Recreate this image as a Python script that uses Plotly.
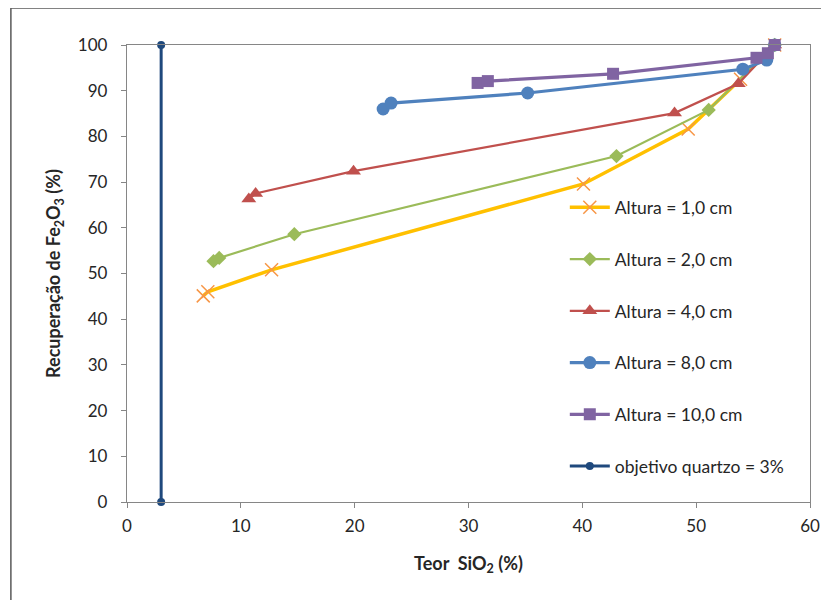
import plotly.graph_objects as go

# Data
x_h1 = [6.7, 7.1, 12.7, 40.1, 49.3, 53.9, 56.9]
y_h1 = [45.1, 46.0, 50.8, 69.6, 81.6, 92.5, 100.0]

x_h2 = [7.6, 8.1, 14.7, 43.0, 51.1, 56.9]
y_h2 = [52.7, 53.4, 58.6, 75.7, 85.8, 100.0]

x_h4 = [10.7, 11.3, 19.9, 48.1, 53.7, 56.9]
y_h4 = [66.3, 67.5, 72.4, 85.1, 91.5, 100.0]

x_h8 = [22.5, 23.2, 35.2, 54.1, 56.2, 56.9]
y_h8 = [86.0, 87.3, 89.5, 94.7, 96.7, 100.0]

x_h10 = [30.8, 31.7, 42.7, 55.3, 56.3, 56.9]
y_h10 = [91.7, 92.1, 93.7, 97.2, 98.2, 100.0]

x_obj = [3, 3]
y_obj = [0, 100]

names = ["Altura = 1,0 cm", "Altura = 2,0 cm", "Altura = 4,0 cm",
         "Altura = 8,0 cm", "Altura = 10,0 cm", "objetivo quartzo = 3%"]

x_ticks = [0, 10, 20, 30, 40, 50, 60]
y_ticks = [0, 10, 20, 30, 40, 50, 60, 70, 80, 90, 100]

FONT = "Lato"
TXT = "#262626"
AX = "#868686"

fig = go.Figure()

fig.add_trace(go.Scatter(
    x=x_h1, y=y_h1, name=names[0], mode="lines+markers", legendgroup="g1",
    line=dict(color="#FFC000", width=3.5),
    marker=dict(symbol="x-thin", size=13, line=dict(color="#F79646", width=1.5)),
    cliponaxis=False))
fig.add_trace(go.Scatter(
    x=x_h2, y=y_h2, name=names[1], mode="lines+markers", legendgroup="g2",
    line=dict(color="#9BBB59", width=2.2),
    marker=dict(symbol="diamond", size=11, color="#9BBB59"),
    cliponaxis=False))
fig.add_trace(go.Scatter(
    x=x_h4, y=y_h4, name=names[2], mode="lines+markers", legendgroup="g3",
    line=dict(color="#C0504D", width=2.2),
    marker=dict(symbol="triangle-up", size=13, color="#C0504D"),
    cliponaxis=False))
fig.add_trace(go.Scatter(
    x=x_h8, y=y_h8, name=names[3], mode="lines+markers", legendgroup="g4",
    line=dict(color="#4F81BD", width=3.2),
    marker=dict(symbol="circle", size=13, color="#4F81BD"),
    cliponaxis=False))
fig.add_trace(go.Scatter(
    x=x_h10, y=y_h10, name=names[4], mode="lines+markers", legendgroup="g5",
    line=dict(color="#8064A2", width=3.2),
    marker=dict(symbol="square", size=12, color="#8064A2"),
    cliponaxis=False))
fig.add_trace(go.Scatter(
    x=x_obj, y=y_obj, name=names[5], mode="lines+markers", legendgroup="g6",
    line=dict(color="#1F497D", width=3),
    marker=dict(symbol="circle", size=8, color="#1F497D"),
    cliponaxis=False))

# outer chart frame
fig.add_shape(type="rect", xref="paper", yref="paper",
              x0=-0.170, x1=1.2, y0=-0.5, y1=1.081,
              line=dict(color="#595959", width=1.5), layer="below")

fig.update_layout(
    width=829, height=600,
    margin=dict(l=119, r=27, t=37, b=106),
    paper_bgcolor="white", plot_bgcolor="white",
    font=dict(family=FONT, size=17, color=TXT),
    showlegend=True,
    legend=dict(x=0.641, y=0.684, xanchor="left", yanchor="top",
                bgcolor="rgba(0,0,0,0)", tracegroupgap=26, itemwidth=40,
                font=dict(family=FONT, size=17.5, color=TXT)),
    xaxis=dict(range=[0, 60], tickvals=x_ticks, showgrid=False, zeroline=False,
               showline=True, linecolor=AX, linewidth=1.3, mirror=True,
               ticks="outside", ticklen=5, tickcolor=AX, ticklabelstandoff=3,
               tickfont=dict(family=FONT, size=17, color=TXT),
               title=dict(text="<b>Teor  SiO<sub>2</sub> (%)</b>",
                          font=dict(family=FONT, size=18, color=TXT), standoff=22)),
    yaxis=dict(range=[0, 100], tickvals=y_ticks, showgrid=False, zeroline=False,
               showline=True, linecolor=AX, linewidth=1.3, mirror=True,
               ticks="outside", ticklen=5, tickcolor=AX, ticklabelstandoff=10,
               tickfont=dict(family=FONT, size=17, color=TXT),
               title=dict(text="<b>Recuperação de Fe<sub>2</sub>O<sub>3</sub> (%)</b>",
                          font=dict(family=FONT, size=18, color=TXT), standoff=12)),
)

fig.write_html("out.html")
